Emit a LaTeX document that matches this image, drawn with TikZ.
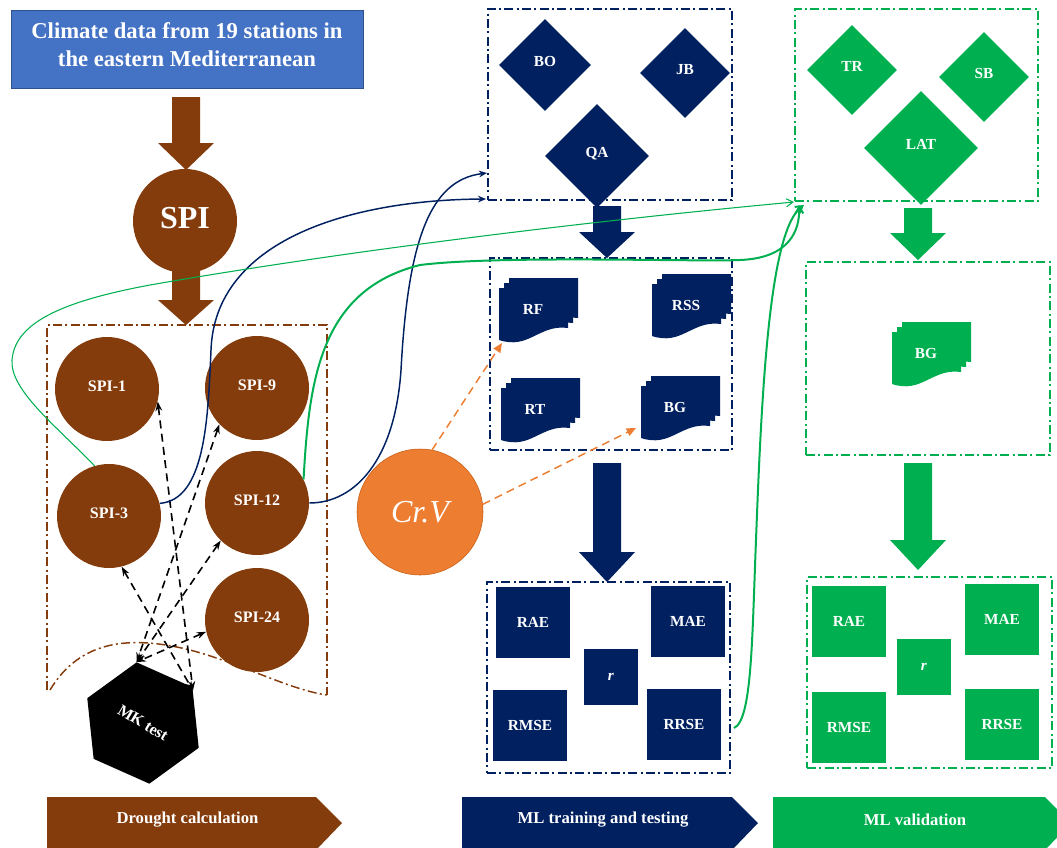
\documentclass[tikz,border=0pt]{standalone}
\usepackage{fontspec}
\setmainfont{Liberation Serif}
\usetikzlibrary{shapes.geometric,arrows.meta}

\definecolor{drought}{HTML}{843C0C}
\definecolor{mltrain}{HTML}{002060}
\definecolor{mlvalid}{HTML}{00B050}
\definecolor{crossv}{HTML}{ED7D31}
\definecolor{crossvedge}{HTML}{C55A11}
\definecolor{climate}{HTML}{4472C4}
\definecolor{climateedge}{HTML}{2F528F}

% stack of documents: name, x, y (top left of front page), colour, label
\newcommand{\docstack}[5]{%
  \foreach \d in {10,5,0}{
    \fill[#4] ({#2+\d},{#3-\d}) -- ++(69,0) -- ++(0,40)
      .. controls ({#2+\d+40},{#3-\d+36}) and ({#2+\d+30},{#3-\d+62}) .. ({#2+\d},{#3-\d+52}) -- cycle;
  }
  \node[doclabel] (#1) at ({#2+34},{#3+21}) {#5};
}

\begin{document}
\begin{tikzpicture}[x=0.75pt,y=-0.75pt,
    every node/.style={text=white,font=\bfseries},
    spi/.style={circle,fill=drought,inner sep=0pt,minimum size=78pt,text depth=4pt,font=\bfseries\fontsize{12}{14}\selectfont},
    test/.style={diamond,aspect=1,inner sep=0pt,text depth=6pt,font=\bfseries\fontsize{11.5}{13}\selectfont},
    metric/.style={rectangle,inner sep=0pt,minimum width=55.5pt,minimum height=53.25pt,font=\bfseries\fontsize{11.5}{13}\selectfont},
    doclabel/.style={inner sep=0pt,font=\bfseries\fontsize{11.5}{13}\selectfont},
    stagebox/.style={rectangle,inner sep=0pt,line width=1.5pt,dash pattern=on 6.75pt off 2.5pt on 1.5pt off 2.5pt},
    phase/.style={font=\bfseries\fontsize{12.5}{15}\selectfont},
    mkarrow/.style={{Stealth[length=7pt,width=5pt]}-{Stealth[length=7pt,width=5pt]},line width=1.2pt,dash pattern=on 6pt off 4pt},
    cvarrow/.style={-{Triangle[length=7pt,width=6pt]},crossv,line width=1.1pt,dash pattern=on 6pt off 4pt},
    navylink/.style={-{Stealth[length=6pt,width=5pt]},mltrain,line width=1.1pt},
    greenlink/.style={-{Straight Barb[length=5pt,width=6pt]},mlvalid,line width=1.5pt}]

    \useasboundingbox (0,0) rectangle (1057,847);

    % input data
    \node[fill=climate,draw=climateedge,minimum width=264pt,minimum height=58.5pt,align=center,
          font=\bfseries\fontsize{17}{21}\selectfont] (data) at (187,49)
          {Climate data from 19 stations in\\the eastern Mediterranean\\[-14pt]};

    % block arrows
    \foreach \x/\ya/\yb/\yc/\col in {186/97/143/170/drought, 186/270/300/325/drought,
            607/206/232/258/mltrain, 607/463/552/582/mltrain,
            918/208/233/260/mlvalid, 918/463/540/570/mlvalid}{
        \fill[\col] (\x-14,\ya) -- (\x+14,\ya) -- (\x+14,\yb) -- (\x+28,\yb) -- (\x,\yc) -- (\x-28,\yb) -- (\x-14,\yb) -- cycle;
    }

    % drought part
    \node[spi,font=\bfseries\fontsize{24}{28}\selectfont] (spi) at (185,221) {SPI};
    \draw[drought,line width=1.1pt,dash pattern=on 6.75pt off 2.5pt on 1.5pt off 2.5pt]
        (47,690) -- (47,325) -- (327,325) -- (327,695);
    \draw[drought,line width=1.1pt,dash pattern=on 6.75pt off 2.5pt on 1.5pt off 2.5pt]
        (50,690) .. controls (80,640) and (130,635) .. (190,650) .. controls (240,663) and (290,690) .. (327,695);
    \foreach \name/\x/\y/\lab in {spi1/107/389/SPI-1, spi9/257/388/SPI-9, spi3/109/516/SPI-3,
            spi12/257/503/SPI-12, spi24/257/620/SPI-24}{
        \node[spi] (\name) at (\x,\y) {\lab};
    }
    \node[regular polygon,regular polygon sides=6,shape border rotate=36,fill=black,inner sep=0pt,
          minimum size=91.5pt,font=\bfseries\fontsize{12}{14}\selectfont] (mk) at (143,723) {\rotatebox{-31}{MK test}};
    \draw[mkarrow] (spi1.-14) -- (mk.33);
    \draw[mkarrow] (spi3.-76) -- (mk.33);
    \draw[mkarrow] (spi9.-136) -- (mk.96);
    \draw[mkarrow] (spi12.-134) -- (mk.96);
    \draw[mkarrow] (spi24.-167) -- (mk.96);

    % ML training and testing
    \node[stagebox,draw=mltrain,minimum width=183pt,minimum height=143.25pt] (trainin) at (610,104.5) {};
    \node[stagebox,draw=mltrain,minimum width=181.5pt,minimum height=144pt] (trainmod) at (611,354) {};
    \node[stagebox,draw=mltrain,minimum width=182.25pt,minimum height=143.25pt] (trainerr) at (608.5,677.5) {};
    \foreach \name/\x/\y/\s/\lab in {bo/545/65/69/BO, jb/685/73/67.5/JB, qa/597/156/78/QA}{
        \node[test,fill=mltrain,minimum size=\s pt] (\name) at (\x,\y) {\lab};
    }
    \docstack{rf}{499}{288}{mltrain}{RF}
    \docstack{rss}{652}{284}{mltrain}{RSS}
    \docstack{rt}{501}{388}{mltrain}{RT}
    \docstack{bgtrain}{641}{386}{mltrain}{BG}
    \foreach \name/\x/\y/\lab in {raetrain/533/622/RAE, maetrain/688/621/MAE,
            rmsetrain/530/725/RMSE, rrsetrain/684/724/RRSE}{
        \node[metric,fill=mltrain] (\name) at (\x,\y) {\lab};
    }
    \node[metric,fill=mltrain,minimum width=40pt,minimum height=42pt] (rtrain) at (611,677) {\textit{r}};

    % cross validation
    \node[circle,fill=crossv,draw=crossvedge,minimum size=94.5pt,inner sep=0pt,
          font=\itshape\fontsize{24}{28}\selectfont] (crv) at (420,512) {Cr.V};
    \draw[cvarrow] (crv.79) -- ([shift={(-31,34)}]rf.center);
    \draw[cvarrow] (crv.7) -- ([shift={(-39,21)}]bgtrain.center);

    % ML validation
    \node[stagebox,draw=mlvalid,minimum width=182.25pt,minimum height=144pt] (validin) at (916.5,105) {};
    \node[stagebox,draw=mlvalid,minimum width=183pt,minimum height=144.75pt] (validmod) at (928,358.5) {};
    \node[stagebox,draw=mlvalid,minimum width=183.75pt,minimum height=143.25pt] (validerr) at (929.5,672.5) {};
    \foreach \name/\x/\y/\s/\lab in {tr/852/70/67.5/TR, sb/984/77/67.5/SB, lat/921/148/85.5/LAT}{
        \node[test,fill=mlvalid,minimum size=\s pt] (\name) at (\x,\y) {\lab};
    }
    \docstack{bgvalid}{892}{332}{mlvalid}{BG}
    \foreach \name/\x/\y/\lab in {raevalid/849/621/RAE, maevalid/1002/619/MAE,
            rmsevalid/849/727/RMSE, rrsevalid/1002/724/RRSE}{
        \node[metric,fill=mlvalid] (\name) at (\x,\y) {\lab};
    }
    \node[metric,fill=mlvalid,minimum width=40pt,minimum height=42pt] (rvalid) at (924,667) {\textit{r}};

    % links between the stages
    \draw[navylink] (spi3.14) .. controls (205,500) and (208,420) .. (211,350)
        .. controls (215,240) and (350,200) .. ([shift={(-1,-2)}]trainin.south west);
    \draw[navylink] (spi12.east) .. controls (355,503) and (395,460) .. (401,370)
        .. controls (408,240) and (430,180) .. ([shift={(0,-28)}]trainin.south west);
    \draw[greenlink,line width=0.8pt] (spi3.106) .. controls (55,425) and (10,390) .. (12,360)
        .. controls (15,320) and (70,300) .. (150,285) .. controls (350,250) and (600,220) .. (validin.south west);
    \draw[greenlink] (spi12.27) .. controls (309,380) and (320,290) .. (420,265)
        .. controls (500,255) and (700,262) .. (740,260) .. controls (790,258) and (800,230) .. ([shift={(5,3)}]validin.south west);
    \draw[greenlink] ([shift={(3,-46)}]trainerr.south east) .. controls (752,720) and (752,640) .. (756,540)
        .. controls (762,380) and (770,230) .. ([shift={(10,3)}]validin.south west);

    % stages
    \foreach \xa/\xb/\col/\name/\lab in {47/316/drought/calc/Drought calculation,
            462/732/mltrain/train/ML training and testing, 773/1045/mlvalid/valid/ML validation}{
        \fill[\col] (\xa,797) -- (\xb,797) -- (\xb+26,823) -- (\xb,850) -- (\xa,850) -- cycle;
        \node[phase] (\name) at ({(\xa+\xb)/2+6},820) {\lab};
    }
\end{tikzpicture}
\end{document}
